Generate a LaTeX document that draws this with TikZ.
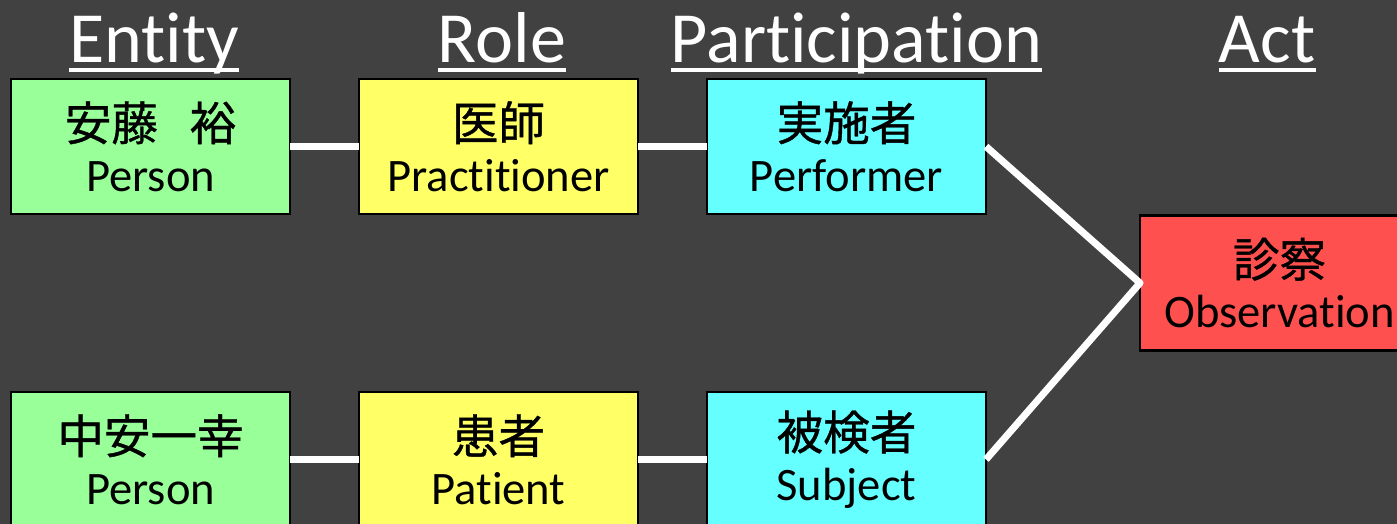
\documentclass[tikz,border=0pt]{standalone}
\usepackage{fontspec}
\setmainfont{Carlito}[Ligatures=NoCommon]
\newfontfamily\cjk{Noto Sans CJK JP}[FakeBold=0.8]
\usetikzlibrary{positioning}
\definecolor{bggrey}{HTML}{414141}
\definecolor{entgreen}{HTML}{99FF99}
\definecolor{roleyellow}{HTML}{FFFF66}
\definecolor{partcyan}{HTML}{66FFFF}
\definecolor{actred}{HTML}{FF5050}
\tikzset{
  box/.style = {draw=black, line width=1.4pt, minimum width=5.58cm, minimum height=2.7cm,
    align=center, inner sep=0pt, outer sep=0pt, font=\fontsize{26.5}{29}\selectfont},
  entity/.style = {box, fill=entgreen},
  role/.style = {box, fill=roleyellow},
  part/.style = {box, fill=partcyan},
  act/.style = {box, fill=actred},
  heading/.style = {text=white, inner sep=0pt, anchor=base, font=\fontsize{41}{41}\selectfont},
  uline/.style = {white, line width=2.3pt},
  link/.style = {white, line width=4pt, line join=round},
}
\begin{document}
\begin{tikzpicture}
            \useasboundingbox (0,0) rectangle (27.94,10.48);
            \clip (0,0) rectangle (27.94,10.48);
            \fill[bggrey] (0,0) rectangle (27.94,10.48);
            % column headings
            \node[heading] (hEntity) at (3.08,9.22) {Entity};
            \node[heading] (hRole) at (10.04,9.22) {Role};
            \node[heading] (hPart) at (17.13,9.22) {Participation};
            \node[heading] (hAct) at (25.34,9.22) {Act};
            \draw[uline] ([yshift=-0.14cm]hEntity.base west) -- ([yshift=-0.14cm]hEntity.base east);
            \draw[uline] ([yshift=-0.14cm]hRole.base west) -- ([yshift=-0.14cm]hRole.base east);
            \draw[uline] ([yshift=-0.14cm]hPart.base west) -- ([yshift=-0.14cm]hPart.base east);
            \draw[uline] ([yshift=-0.14cm]hAct.base west) -- ([yshift=-0.14cm]hAct.base east);
            % doctor row
            \node[entity] (ando) at (3.01,7.55) {{\cjk 安藤}\hspace{0.68em}{\cjk 裕}\\Person};
            \node[role, right=1.38cm of ando] (ishi) {{\cjk 医師}\\Practitioner};
            \node[part, right=1.38cm of ishi] (jisshi) {{\cjk 実施者}\\Performer};
            % patient row
            \node[entity, below=3.56cm of ando] (nakayasu) {{\cjk 中安一幸}\\Person};
            \node[role, right=1.38cm of nakayasu] (kanja) {{\cjk 患者}\\Patient};
            \node[part, right=1.38cm of kanja] (hikensha) {{\cjk 被検者}\\Subject};
            % the act
            \node[act] (shinsatsu) at (25.59,4.82) {{\cjk 診察}\\Observation};
            \draw[link] (ando) -- (ishi);
            \draw[link] (ishi) -- (jisshi);
            \draw[link] (nakayasu) -- (kanja);
            \draw[link] (kanja) -- (hikensha);
            \draw[link] (jisshi.east) -- (shinsatsu.west) -- (hikensha.east);
\end{tikzpicture}
\end{document}
